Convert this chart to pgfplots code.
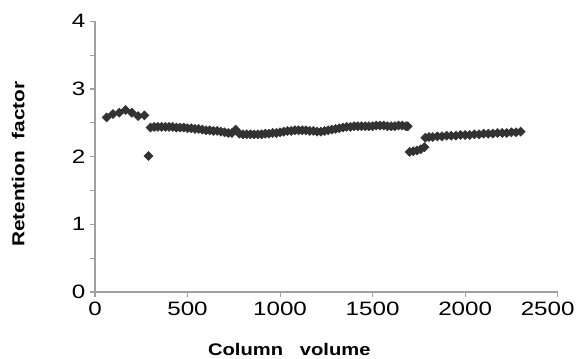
\documentclass[border=0pt]{standalone}
\usepackage{fontspec}
\setmainfont{Liberation Sans}
\usepackage{graphicx}
\usepackage{pgfplots}
\pgfplotsset{compat=1.18}
\definecolor{axgray}{RGB}{160,160,160}
\definecolor{mk}{RGB}{50,50,50}
\newcommand{\tl}[1]{\scalebox{1.25}[1]{\fontsize{14.5}{16}\selectfont #1}}
\begin{document}
\begin{tikzpicture}
\useasboundingbox (-71.25pt,-50.25pt) rectangle (363.75pt,219pt);
\begin{axis}[
  at={(0,0)}, anchor=south west,
  scale only axis, width=347pt, height=203pt,
  xmin=0, xmax=2500, ymin=0, ymax=4,
  axis lines*=left,
  axis line style={axgray, line width=0.8pt},
  every tick/.style={axgray, line width=0.8pt},
  tick align=outside,
  major tick length=3.75pt, minor tick length=3.75pt,
  xtick={0,500,1000,1500,2000,2500}, ytick={0,1,2,3,4},
  minor ytick={0.5,1.5,2.5,3.5},
  xticklabels={\tl{0},\tl{500},\tl{1000},\tl{1500},\tl{2000},{\hspace*{-15pt}\tl{2500}}},
  yticklabels={\tl{0},\tl{1},\tl{2},\tl{3},\tl{4}},
  xlabel={\scalebox{1.2}[1]{\fontsize{12.6}{14}\selectfont\bfseries Column\ \ \ volume}},
  ylabel={\scalebox{1.2}[1]{\fontsize{13}{15}\selectfont\bfseries Retention\ \ factor}},
  xlabel style={at={(axis description cs:0.42,-0.214)}, anchor=center},
  ylabel style={at={(axis description cs:-0.166,0.472)}, anchor=center, rotate=0},
  clip=false,
]
\addplot[only marks, mark=square*, mark size=2.4pt, mark options={rotate=45, fill=mk, draw=mk}] coordinates {
(63,2.58) (97,2.63) (131,2.65) (165,2.69) (199,2.65) (233,2.60) (267,2.61)
(289,2.01)
(300,2.43) (320,2.44) (340,2.44) (360,2.44) (380,2.44) (400,2.44) (420,2.44) (440,2.43)
(460,2.43) (480,2.43) (500,2.42) (520,2.42) (540,2.41) (560,2.41) (580,2.40) (600,2.39)
(620,2.39) (640,2.38) (660,2.38) (680,2.37) (700,2.36) (720,2.35) (740,2.35) (760,2.40)
(780,2.34) (800,2.33) (820,2.33) (840,2.33) (860,2.33) (880,2.33) (900,2.33) (920,2.34)
(940,2.34) (960,2.35) (980,2.35) (1000,2.36) (1020,2.37) (1040,2.38) (1060,2.38) (1080,2.39)
(1100,2.39) (1120,2.39) (1140,2.39) (1160,2.38) (1180,2.38) (1200,2.37) (1220,2.37) (1240,2.38)
(1260,2.39) (1280,2.40) (1300,2.41) (1320,2.42) (1340,2.43) (1360,2.44) (1380,2.44) (1400,2.45)
(1420,2.45) (1440,2.45) (1460,2.45) (1480,2.45) (1500,2.45) (1520,2.46) (1540,2.46) (1560,2.46)
(1580,2.45) (1600,2.45) (1620,2.45) (1640,2.46) (1660,2.46) (1680,2.45) (1690,2.45)
(1700,2.07) (1720,2.08) (1740,2.09) (1760,2.11) (1780,2.14)
(1785,2.28) (1805,2.29) (1825,2.29) (1850,2.30) (1875,2.30) (1900,2.31) (1925,2.31) (1950,2.31)
(1975,2.32) (2000,2.32) (2025,2.32) (2050,2.33) (2075,2.33) (2100,2.34) (2125,2.34) (2150,2.34)
(2175,2.35) (2200,2.35) (2225,2.35) (2250,2.36) (2275,2.36) (2300,2.37)
};
\end{axis}
\end{tikzpicture}
\end{document}
